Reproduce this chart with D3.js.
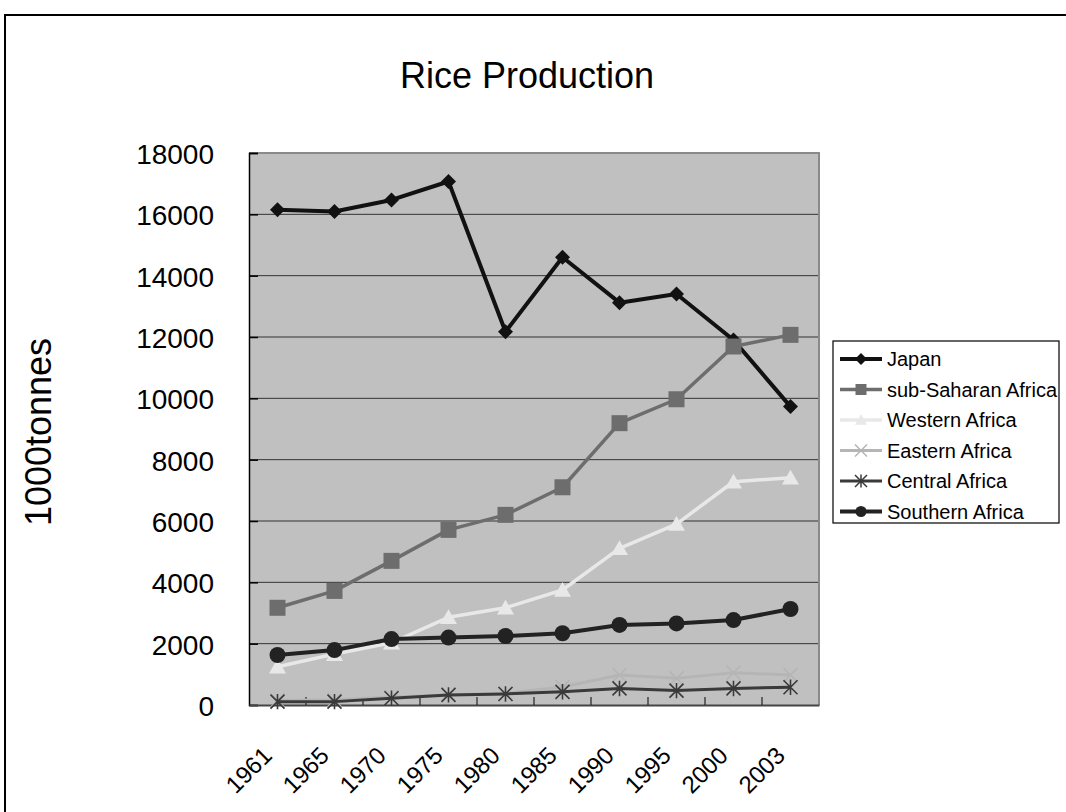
<!DOCTYPE html>
<html>
<head>
<meta charset="utf-8">
<script src="https://cdn.jsdelivr.net/npm/d3@7"></script>
<style>
  html, body { margin: 0; padding: 0; background: #fff; }
  svg { display: block; }
  text { font-family: "Liberation Sans", Arial, sans-serif; fill: #000; }
</style>
</head>
<body>
<svg id="chart" width="1066" height="812"></svg>
<script>
'use strict';

/* ── Data (1000 tonnes) ─────────────────────────────────── */
const years      = ['1961', '1965', '1970', '1975', '1980', '1985', '1990', '1995', '2000', '2003'];
const japan      = [16150, 16090, 16470, 17070, 12170, 14600, 13120, 13400, 11900, 9730];
const subSaharan = [3170, 3720, 4700, 5710, 6200, 7100, 9190, 9970, 11690, 12070];
const western    = [1250, 1660, 2030, 2860, 3170, 3750, 5110, 5900, 7280, 7410];
const eastern    = [150, 170, 260, 330, 380, 590, 980, 870, 1050, 980];
const central    = [110, 110, 220, 330, 360, 430, 540, 470, 540, 580];
const southern   = [1630, 1790, 2150, 2200, 2250, 2340, 2610, 2660, 2770, 3130];
const yTicks     = [0, 2000, 4000, 6000, 8000, 10000, 12000, 14000, 16000, 18000];

const seriesNames = ['Japan', 'sub-Saharan Africa', 'Western Africa', 'Eastern Africa', 'Central Africa', 'Southern Africa'];
const seriesVals  = [japan, subSaharan, western, eastern, central, southern];

/* ── Styling per series ── */
const STYLE = [
  { color: '#111111', width: 4,   marker: 'diamond' },
  { color: '#6d6d6d', width: 3.5, marker: 'square' },
  { color: '#e8e8e8', width: 3.5, marker: 'triangle' },
  { color: '#b5b5b5', width: 3,   marker: 'x' },
  { color: '#3a3a3a', width: 3,   marker: 'star' },
  { color: '#222222', width: 4,   marker: 'circle' }
];

/* marker path centred on 0,0; s = half size */
function markerPath(type, s) {
  switch (type) {
    case 'diamond':  return `M0,${-s}L${s},0L0,${s}L${-s},0Z`;
    case 'square':   return `M${-s},${-s}H${s}V${s}H${-s}Z`;
    case 'triangle': return `M0,${-s * 0.95}L${s},${s * 0.8}L${-s},${s * 0.8}Z`;
    case 'circle':   return `M${s},0A${s},${s} 0 1,1 ${-s},0A${s},${s} 0 1,1 ${s},0Z`;
    case 'x':        return `M${-s},${-s}L${s},${s}M${s},${-s}L${-s},${s}`;
    case 'star':     return `M${-s},${-s}L${s},${s}M${s},${-s}L${-s},${s}M0,${-s * 1.1}V${s * 1.1}`;
  }
}
const isStroke = t => t === 'x' || t === 'star';

const svg = d3.select('#chart');

/* ── Outer chart border ── */
svg.append('rect')
  .attr('x', 5).attr('y', 15).attr('width', 1100).attr('height', 900)
  .attr('fill', '#fff').attr('stroke', '#000').attr('stroke-width', 2);

/* ── Layout ── */
const PL = 249, PR = 819, PT = 153, PB = 705;

const x = d3.scaleBand().domain(years).range([PL, PR]).padding(0);
const y = d3.scaleLinear().domain([0, 18000]).range([PB, PT]);
const cx = d => x(d) + x.bandwidth() / 2;

/* plot area */
svg.append('rect')
  .attr('x', PL).attr('y', PT).attr('width', PR - PL).attr('height', PB - PT)
  .attr('fill', '#c0c0c0');

/* gridlines */
svg.append('g').selectAll('line')
  .data(yTicks.filter(t => t > 0 && t < 18000))
  .join('line')
  .attr('x1', PL).attr('x2', PR)
  .attr('y1', d => y(d)).attr('y2', d => y(d))
  .attr('stroke', '#333').attr('stroke-width', 1);

/* plot border top/right */
svg.append('path')
  .attr('d', `M${PL},${PT}H${PR}V${PB}`)
  .attr('fill', 'none').attr('stroke', '#8a8a8a').attr('stroke-width', 2);

/* ── Y axis ── */
const yAxis = d3.axisLeft(y).tickValues(yTicks).tickFormat(d3.format('d')).tickSize(-9).tickPadding(35);
const yg = svg.append('g').attr('transform', `translate(${PL},0)`).call(yAxis);
yg.select('.domain').attr('stroke', '#000').attr('stroke-width', 1.5);
yg.selectAll('.tick line').attr('stroke', '#000').attr('stroke-width', 1.5);
yg.selectAll('.tick text')
  .attr('font-size', 28).attr('fill', '#000')
  .attr('font-family', '"Liberation Sans", Arial, sans-serif')
  .attr('dy', '0.38em');

/* ── X axis ── */
const xAxis = d3.axisBottom(x).tickSize(0).tickFormat('');
const xg = svg.append('g').attr('transform', `translate(0,${PB})`).call(xAxis);
xg.select('.domain').attr('stroke', '#444').attr('stroke-width', 2);
/* inward ticks on category boundaries */
xg.selectAll('line.bnd')
  .data(years.slice(1))
  .join('line').attr('class', 'bnd')
  .attr('x1', d => x(d)).attr('x2', d => x(d))
  .attr('y1', 0).attr('y2', -8)
  .attr('stroke', '#222').attr('stroke-width', 1.2);

svg.append('g').selectAll('text')
  .data(years)
  .join('text')
  .attr('transform', d => `translate(${cx(d) - 4},757) rotate(-45)`)
  .attr('text-anchor', 'end')
  .attr('font-size', 24)
  .text(d => d);

/* ── Series ── */
const line = d3.line().x((v, i) => cx(years[i])).y(v => y(v));

seriesVals.forEach((vals, si) => {
  const st = STYLE[si];
  const g = svg.append('g');
  g.append('path')
    .attr('d', line(vals))
    .attr('fill', 'none').attr('stroke', st.color)
    .attr('stroke-width', st.width).attr('stroke-linejoin', 'round');

  const size = { diamond: 7.5, square: 8, triangle: 8.5, circle: 8, x: 7, star: 7 }[st.marker];
  g.selectAll('path.mk')
    .data(vals)
    .join('path').attr('class', 'mk')
    .attr('transform', (v, i) => `translate(${cx(years[i])},${y(v)})`)
    .attr('d', markerPath(st.marker, size))
    .attr('fill', isStroke(st.marker) ? 'none' : st.color)
    .attr('stroke', st.color)
    .attr('stroke-width', isStroke(st.marker) ? 1.6 : 0);
});

/* ── Title & axis title ── */
svg.append('text')
  .attr('x', 527).attr('y', 88)
  .attr('text-anchor', 'middle')
  .attr('font-size', 36)
  .text('Rice Production');

svg.append('text')
  .attr('transform', 'translate(51,432) rotate(-90)')
  .attr('text-anchor', 'middle')
  .attr('font-size', 36)
  .text('1000tonnes');

/* ── Legend ── */
const lg = svg.append('g');
lg.append('rect')
  .attr('x', 833).attr('y', 341).attr('width', 226).attr('height', 182)
  .attr('fill', '#fff').attr('stroke', '#000').attr('stroke-width', 1.2);

seriesNames.forEach((name, i) => {
  const st = STYLE[i];
  const ly = 359 + i * 30.5;
  lg.append('line')
    .attr('x1', 840).attr('x2', 882).attr('y1', ly).attr('y2', ly)
    .attr('stroke', st.color).attr('stroke-width', st.width);
  const size = { diamond: 6, square: 5.5, triangle: 6, circle: 5.5, x: 6, star: 6 }[st.marker];
  lg.append('path')
    .attr('transform', `translate(861,${ly})`)
    .attr('d', markerPath(st.marker, size))
    .attr('fill', isStroke(st.marker) ? 'none' : st.color)
    .attr('stroke', st.color)
    .attr('stroke-width', isStroke(st.marker) ? 1.5 : 0);
  lg.append('text')
    .attr('x', 887).attr('y', ly + 7)
    .attr('font-size', 20)
    .text(name);
});
</script>
</body>
</html>
